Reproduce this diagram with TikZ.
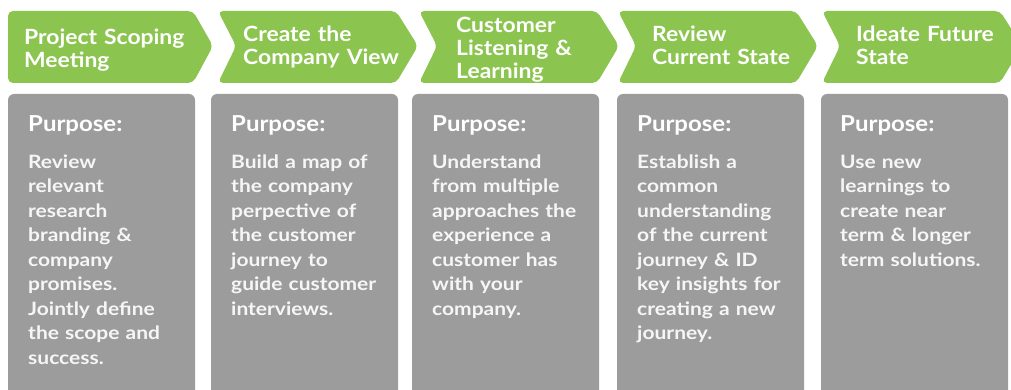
\documentclass[tikz,border=0pt]{standalone}
\usepackage{fontspec}
\setmainfont{Lato}
\newfontfamily\titlefam{Lato}[FakeStretch=1.09]
\newfontfamily\bodyfam{Lato}[FakeStretch=1.14]
\definecolor{chevgreen}{RGB}{139,197,80}
\definecolor{boxgray}{RGB}{155,156,155}
\definecolor{bodytext}{RGB}{246,246,246}
\begin{document}
\begin{tikzpicture}[x=1pt,y=-1pt,
  chev/.style={fill=chevgreen, rounded corners=5pt},
  panel/.style={fill=boxgray, rounded corners=6pt},
  title/.style={anchor=base west, align=left, inner sep=0pt, text width=180pt,
    font=\titlefam\bfseries\fontsize{21}{23}\selectfont, text=white},
  purp/.style={anchor=base west, inner sep=0pt,
    font=\titlefam\bfseries\fontsize{22}{24}\selectfont, text=white},
  body/.style={anchor=base west, align=left, inner sep=0pt, text width=175pt,
    font=\bodyfam\bfseries\fontsize{18.4}{24.5}\selectfont, text=bodytext}]
\useasboundingbox (0,0) rectangle (1011,390);
\clip (0,0) rectangle (1011,390);
% chevrons
\fill[chev] (8,11) -- (193,11) -- (213,46) -- (193,83) -- (8,83) -- cycle;
\foreach \L in {218,419,618,822}{
  \fill[chev] (\L,11) -- (\L+178,11) -- (\L+200,46) -- (\L+178,83) -- (\L,83) -- (\L+18,46) -- cycle;
}
% panels
\foreach \X in {8,211,412,617,821}{
  \fill[panel] (\X,94) rectangle (\X+187,420);
}
% titles
\node[title] (t1) at (24,45) {Project Scoping\\Meeting};
\node[title] (t2) at (243,42) {Create the\\Company View};
\node[title] (t3) at (456,33) {Customer\\Listening \&\\Learning};
\node[title] (t4) at (652,42) {Review\\Current State};
\node[title] (t5) at (856,42) {Ideate Future\\State};
% purpose
\node[purp] (p1) at (28,132) {Purpose:};
\node[purp] (p2) at (231,132) {Purpose:};
\node[purp] (p3) at (432,132) {Purpose:};
\node[purp] (p4) at (637,132) {Purpose:};
\node[purp] (p5) at (840,132) {Purpose:};
% bodies
\node[body] (b1) at (28,168) {Review\\relevant\\research\\branding \&\\company\\promises.\\Jointly define\\the scope and\\success.};
\node[body] (b2) at (231,168) {Build a map of\\the company\\perpective of\\the customer\\journey to\\guide customer\\interviews.};
\node[body] (b3) at (432,168) {Understand\\from multiple\\approaches the\\experience a\\customer has\\with your\\company.};
\node[body] (b4) at (637,168) {Establish a\\common\\understanding\\of the current\\journey \& ID\\key insights for\\creating a new\\journey.};
\node[body] (b5) at (840,168) {Use new\\learnings to\\create near\\term \& longer\\term solutions.};
\end{tikzpicture}
\end{document}
